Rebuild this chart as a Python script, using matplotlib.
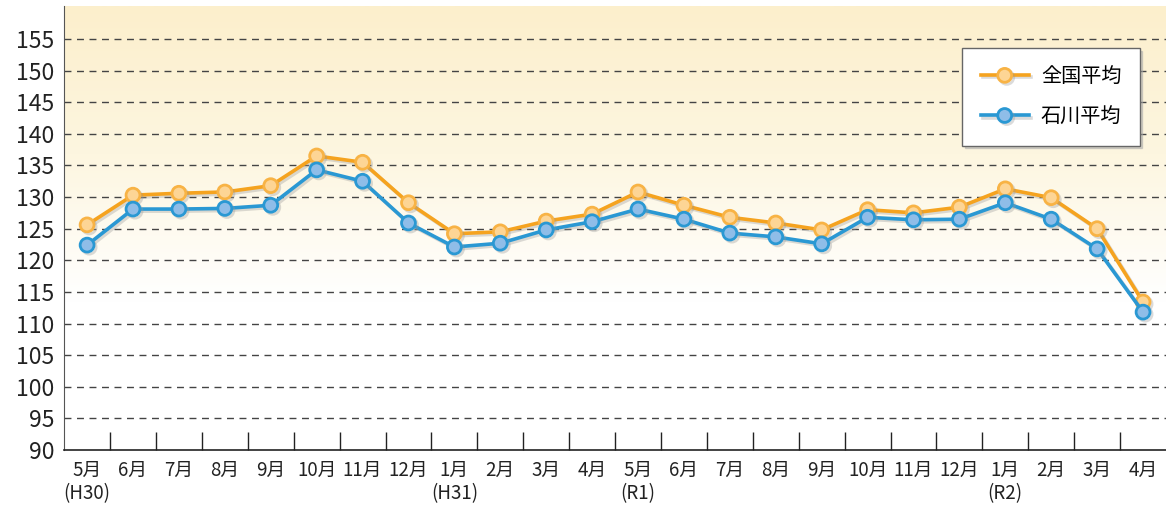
import numpy as np
import matplotlib
matplotlib.use('Agg')
import matplotlib.pyplot as plt
import matplotlib.patheffects as pe
from matplotlib.colors import LinearSegmentedColormap

plt.rcParams['font.family'] = ['Noto Sans CJK JP', 'DejaVu Sans']

months = ['5月', '6月', '7月', '8月', '9月', '10月', '11月', '12月', '1月', '2月', '3月', '4月',
          '5月', '6月', '7月', '8月', '9月', '10月', '11月', '12月', '1月', '2月', '3月', '4月']
eras = {0: '(H30)', 8: '(H31)', 12: '(R1)', 20: '(R2)'}

national = [125.6, 130.3, 130.6, 130.8, 131.8, 136.5, 135.5, 129.1, 124.2, 124.5, 126.2, 127.3,
            130.8, 128.7, 126.8, 125.9, 124.8, 128.0, 127.5, 128.4, 131.3, 129.9, 125.0, 113.4]
ishikawa = [122.4, 128.1, 128.1, 128.2, 128.7, 134.3, 132.5, 125.9, 122.1, 122.7, 124.8, 126.1,
            128.1, 126.5, 124.3, 123.7, 122.6, 126.8, 126.4, 126.5, 129.1, 126.5, 121.8, 111.8]

fig = plt.figure(figsize=(11.66, 5.09), dpi=100)
ax = fig.add_axes([0.055, 0.116, 0.945, 0.872])

x = np.arange(len(months))
ymin, ymax = 90, 160.2

# Background gradient (light yellow at top fading to white)
cmap = LinearSegmentedColormap.from_list('bg', ['#ffffff', '#ffffff', '#fdf6e0', '#fcefcc'])
grad = np.linspace(0, 1, 256).reshape(-1, 1)
ax.imshow(grad, aspect='auto', cmap=cmap, origin='lower',
          extent=(-0.5, len(months) - 0.5, ymin, ymax), zorder=0)

# Grid
for v in range(95, 160, 5):
    ax.axhline(v, color='#444444', linestyle=(0, (5, 4)), linewidth=1.0, zorder=1)

shadow = [pe.SimpleLineShadow(offset=(1.5, -1.5), shadow_color='#999999', alpha=0.35), pe.Normal()]

ax.plot(x, national, color='#f5a31f', linewidth=2.6, marker='o', markersize=10,
        markerfacecolor='#fdd595', markeredgecolor='#f8b345', markeredgewidth=2,
        label='全国平均', zorder=3, path_effects=shadow)
ax.plot(x, ishikawa, color='#2a98d3', linewidth=2.6, marker='o', markersize=10,
        markerfacecolor='#8fbde8', markeredgecolor='#2a98d3', markeredgewidth=2,
        label='石川平均', zorder=4, path_effects=shadow)

ax.set_xlim(-0.5, len(months) - 0.5)
ax.set_ylim(ymin, ymax)

ax.set_yticks(range(90, 160, 5))
ax.tick_params(axis='y', length=0, labelsize=16.5, pad=7, labelcolor='#222222')

labels = [m + ('\n' + eras[i] if i in eras else '') for i, m in enumerate(months)]
ax.set_xticks(x)
ax.set_xticklabels(labels, fontsize=13.5, linespacing=1.15, color='#222222')
ax.tick_params(axis='x', which='major', length=0, pad=7)
ax.set_xticks(np.arange(0.5, len(months) - 1, 1), minor=True)
ax.tick_params(axis='x', which='minor', direction='in', length=13, width=1, color='#222222')

for s in ['top', 'right']:
    ax.spines[s].set_visible(False)
ax.spines['left'].set_color('#555555')
ax.spines['bottom'].set_color('#222222')
ax.spines['bottom'].set_linewidth(1.2)

leg = ax.legend(loc='upper right', bbox_to_anchor=(0.976, 0.905), fontsize=14.5,
                frameon=True, fancybox=False, edgecolor='#666666', framealpha=1,
                handlelength=2.4, borderpad=0.9, labelspacing=0.95, handletextpad=0.6,
                borderaxespad=0, shadow={'color': '#aaaaaa', 'alpha': 0.5})
leg.get_frame().set_linewidth(1.0)

fig.savefig('out.png', dpi=100)
